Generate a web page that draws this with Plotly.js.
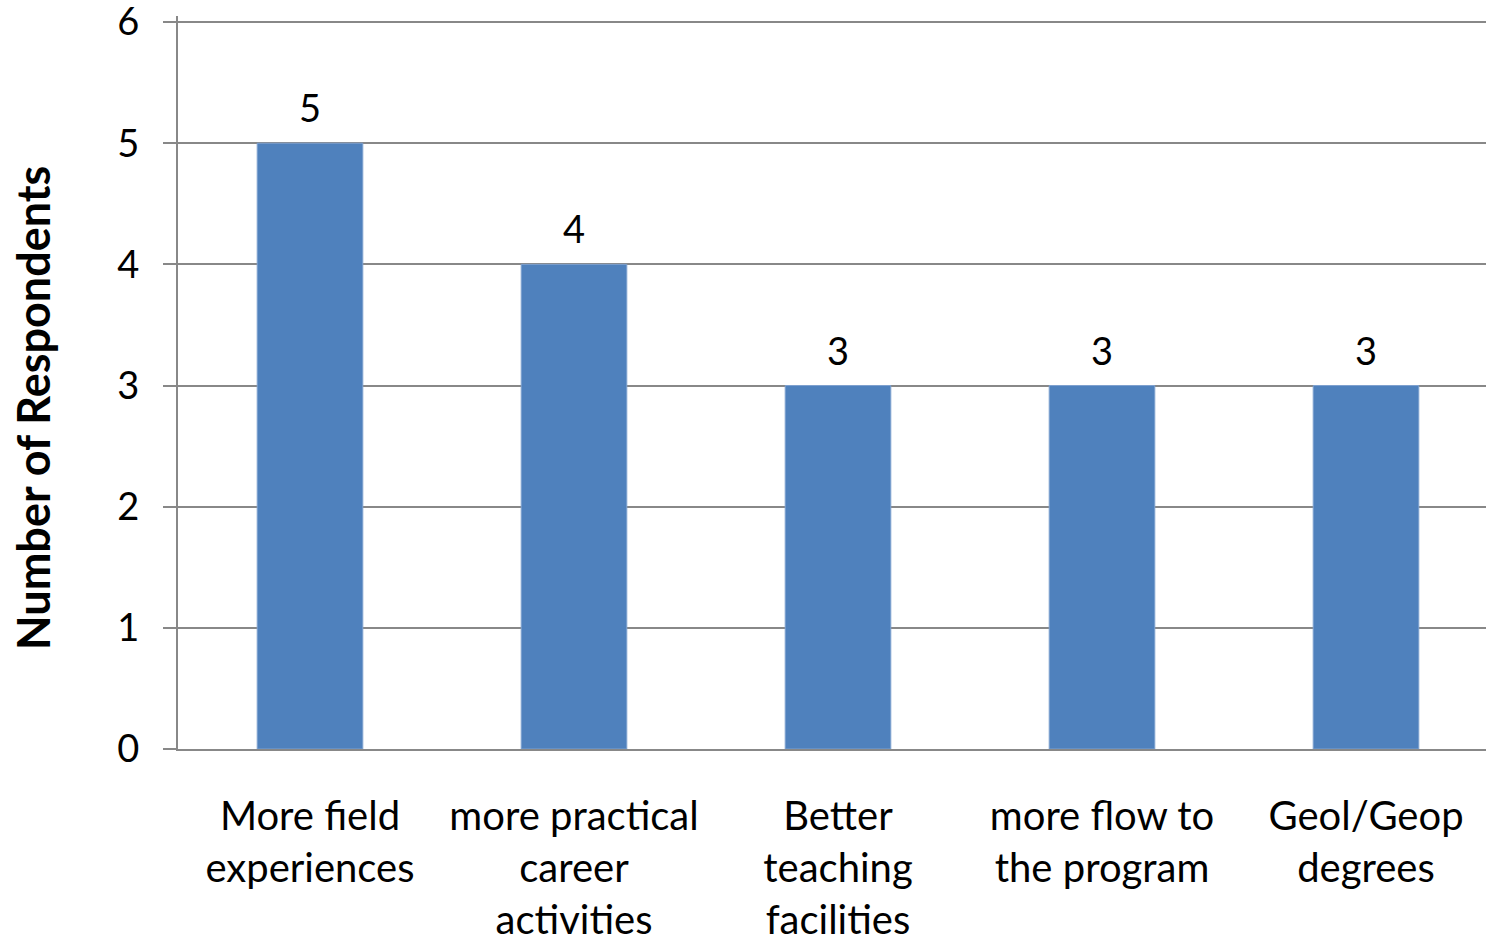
<!DOCTYPE html>
<html>
<head>
<meta charset="utf-8">
<script src="https://cdn.plot.ly/plotly-3.0.1.min.js"></script>
<style>html,body{margin:0;padding:0;background:#fff;overflow:hidden;width:1486px;height:938px;}#chart{width:1498px;height:938px;}</style>
</head>
<body>
<div id="chart"></div>
<script>
const categories = ["More field<br>experiences", "more practical<br>career<br>activities", "Better<br>teaching<br>facilities", "more flow to<br>the program", "Geol/Geop<br>degrees"];
const respondents = [5, 4, 3, 3, 3];
const yTicks = [0, 1, 2, 3, 4, 5, 6];
const yTitle = "Number of Respondents";

const FONT = "Lato, 'Open Sans', sans-serif";

const trace = {
  type: "bar",
  x: categories,
  y: respondents,
  marker: { color: "#4F81BD", line: { color: "#7EA1CF", width: 1 } },
  hoverinfo: "x+y"
};

const annotations = categories.map((c, i) => ({
  x: c, y: respondents[i], xref: "x", yref: "y",
  text: String(respondents[i]), showarrow: false,
  yanchor: "bottom", yshift: 11,
  font: { family: FONT, size: 38, color: "#000" }
}));

annotations.push({
  xref: "paper", yref: "paper", x: -0.11, y: 0.465,
  xanchor: "center", yanchor: "middle",
  text: "<b>" + yTitle + "</b>", textangle: -90, showarrow: false,
  font: { family: FONT, size: 45, color: "#000" }
});

const layout = {
  width: 1498, height: 938,
  margin: { l: 178, r: 0, t: 16, b: 189 },
  paper_bgcolor: "#fff", plot_bgcolor: "#fff",
  showlegend: false,
  bargap: 0.6,
  font: { family: FONT, size: 38, color: "#000" },
  xaxis: {
    type: "category",
    showgrid: false,
    showline: true, linecolor: "#888", linewidth: 2,
    ticks: "",
    tickfont: { family: FONT, size: 40, color: "#000" },
    ticklabelstandoff: 31,
    ticklabeloverflow: "allow",
    automargin: false
  },
  yaxis: {
    range: [0, 6.05],
    tickvals: yTicks,
    ticktext: yTicks.map(String),
    showgrid: true, gridcolor: "#888", gridwidth: 2,
    showline: true, linecolor: "#888", linewidth: 2,
    ticks: "outside", ticklen: 13, tickwidth: 2, tickcolor: "#888",
    tickfont: { family: FONT, size: 38, color: "#000" },
    ticklabelstandoff: 16,
    ticklabeloverflow: "allow",
    zeroline: false,
    automargin: false
  },
  annotations: annotations
};

Plotly.newPlot("chart", [trace], layout, { displayModeBar: false, staticPlot: true });
</script>
</body>
</html>
